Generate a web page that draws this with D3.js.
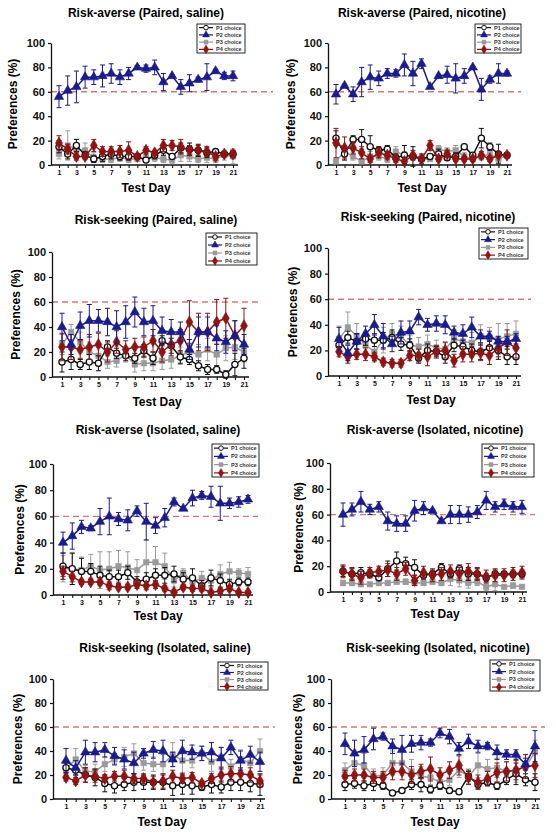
<!DOCTYPE html>
<html><head><meta charset="utf-8">
<script src="https://cdn.jsdelivr.net/npm/d3@7"></script>
<style>body{margin:0;background:#fff}svg{display:block}text{font-family:"Liberation Sans",Arial,sans-serif;font-weight:bold}</style>
</head><body>
<script>
const days = [1,2,3,4,5,6,7,8,9,10,11,12,13,14,15,16,17,18,19,20,21];
const yTicks = [0,20,40,60,80,100];
const criterion = 60;
const seriesNames = ["P1 choice","P2 choice","P3 choice","P4 choice"];
const panelTitles = ["Risk-averse (Paired, saline)","Risk-averse (Paired, nicotine)","Risk-seeking (Paired, saline)","Risk-seeking (Paired, nicotine)","Risk-averse (Isolated, saline)","Risk-averse (Isolated, nicotine)","Risk-seeking (Isolated, saline)","Risk-seeking (Isolated, nicotine)"];
const yLabel = "Preferences (%)";
const xLabel = "Test Day";

// Panel 1: Risk-averse (Paired, saline)
const raPS_P1 = [15,9,16,8,5,7,9,7,7,7,4,8,12,7,14,13,12,10,11,9,9];
const raPS_P1e = [5,4,5,3,3,4,4,3,3,2,2,3,4,2,4,5,5,4,2,2,3];
const raPS_P2 = [56,61,64,72,72,73,75,72,75,80,79,80,68,73,64,67,70,72,77,73,73];
const raPS_P2e = [9,12,13,9,6,9,8,6,5,1.5,3,6,7,1,6,7,2,11,1.5,3,4];
const raPS_P3 = [9,16,13,12,6,5,5,6,5,5,6,6,5,4,8,7,5,6,5,8,7];
const raPS_P3e = [4,12,8,6,4,3,3,3,3,2,3,3,3,3,5,4,3,4,3,4,6];
const raPS_P4 = [18,13,7,7,16,11,11,11,12,7,12,10,16,16,15,12,12,11,7,9,9];
const raPS_P4e = [6,4,3,2,5,4,4,5,7,2,3,2,5,4,6,4,4,4,3,2,3];
// Panel 2: Risk-averse (Paired, nicotine)
const raPN_P1 = [22,9,21,21,15,12,13,6,8,7,5,7,9,6,7,15,8,22,15,9,8];
const raPN_P1e = [6,5,3,8,9,3,3,3,8,8,4,2,4,2,3,2,2,8,3,8,2];
const raPN_P2 = [58,65,58,68,72,71,75,75,82,75,83,64,73,74,71,73,80,62,70,75,75];
const raPN_P2e = [8,1,6,12,10,6,4,3,9,10,4,1,1,7,12,6,1,9,3,8,2];
const raPN_P3 = [3,11,7,3,7,7,5,11,8,7,5,5,13,11,12,7,5,7,9,5,8];
const raPN_P3e = [2,5,3,2,4,3,3,4,3,3,2,2,3,3,4,3,2,3,3,3,2];
const raPN_P4 = [18,14,14,10,5,10,8,5,3,8,5,16,5,9,5,5,5,8,5,8,8];
const raPN_P4e = [12,9,5,5,3,4,3,3,2,4,2,4,2,3,2,2,2,3,2,2,2];
// Panel 3: Risk-seeking (Paired, saline)
const rsPS_P1 = [12,14,10,12,11,24,19,17,15,21,15,29,25,16,14,9,6,6,2,10,15];
const rsPS_P1e = [8,8,4,6,6,5,4,4,4,5,5,4,6,5,4,4,4,3,3,9,8];
const rsPS_P2 = [40,26,41,45,45,44,40,44,52,44,45,37,36,36,22,36,36,31,28,33,26];
const rsPS_P2e = [11,8,11,13,9,11,13,13,12,11,12,11,10,8,8,12,12,10,9,12,8];
const rsPS_P3 = [26,36,28,20,17,12,13,18,10,11,11,13,14,17,20,18,22,18,23,24,20];
const rsPS_P3e = [8,6,8,8,7,5,5,6,6,6,6,7,7,7,6,8,9,9,10,10,8];
const rsPS_P4 = [24,24,22,24,26,20,28,22,24,24,29,20,26,29,44,36,36,44,47,33,41];
const rsPS_P4e = [11,10,7,10,9,8,9,7,7,8,9,8,9,9,17,15,15,18,16,12,14];
// Panel 4: Risk-seeking (Paired, nicotine)
const rsPN_P1 = [24,30,27,29,28,28,30,25,24,14,20,19,15,24,23,20,19,22,20,15,15];
const rsPN_P1e = [5,5,6,5,5,6,6,5,5,4,5,4,5,5,5,5,6,6,7,6,6];
const rsPN_P2 = [29,18,27,33,40,31,25,34,35,46,40,41,40,34,33,38,31,31,27,27,29];
const rsPN_P2e = [9,6,6,6,8,10,6,9,8,6,5,6,7,5,7,8,5,4,4,4,4];
const rsPN_P3 = [29,38,31,24,19,28,33,31,24,23,25,22,21,29,27,26,31,30,29,31,33];
const rsPN_P3e = [10,12,10,8,8,10,8,8,8,7,7,6,6,7,8,8,9,8,12,10,10];
const rsPN_P4 = [19,15,17,17,15,11,10,10,16,16,15,19,20,12,17,17,18,16,22,26,22];
const rsPN_P4e = [4,5,4,5,3,3,3,3,4,5,7,5,6,5,6,6,6,7,7,10,8];
// Panel 5: Risk-averse (Isolated, saline)
const raIS_P1 = [22,20,18,18,15,14,14,17,10,12,15,15,16,12,13,7,13,11,8,10,10];
const raIS_P1e = [10,12,10,6,7,5,5,5,4,5,5,6,6,5,7,4,6,5,4,3,3];
const raIS_P2 = [40,45,52,51,56,60,58,57,64,56,53,59,71,66,74,76,75,70,70,71,73];
const raIS_P2e = [8,10,5,2,10,14,5,8,4,14,6,7,3,1,6,3,8,13,4,4,3];
const raIS_P3 = [20,20,19,22,19,20,22,21,19,25,25,22,11,17,10,13,11,16,18,17,16];
const raIS_P3e = [10,12,10,9,14,13,12,12,8,17,12,10,5,3,4,5,5,7,7,3,5];
const raIS_P4 = [18,14,10,10,10,7,6,6,8,7,8,5,2,6,5,5,2,3,5,2,2];
const raIS_P4e = [4,4,2,2,3,3,2,2,3,3,3,2,2,2,2,2,1,2,2,1,1];
// Panel 6: Risk-averse (Isolated, nicotine)
const raIN_P1 = [16,14,15,14,11,18,24,22,19,13,14,19,14,18,14,14,11,14,14,14,14];
const raIN_P1e = [4,4,4,3,2,6,7,5,6,3,3,3,3,3,5,4,3,3,2,3,3];
const raIN_P2 = [60,64,70,64,66,55,53,53,63,65,63,55,60,60,60,62,71,66,68,66,66];
const raIN_P2e = [9,5,8,4,4,7,6,6,8,5,1,1,7,7,6,5,7,4,4,4,5];
const raIN_P3 = [7,7,6,6,7,7,8,8,7,7,8,7,10,9,7,8,4,6,4,5,4];
const raIN_P3e = [2,2,1,1,2,2,2,2,2,2,2,2,5,5,4,3,3,5,1,2,1];
const raIN_P4 = [16,14,11,15,16,17,14,18,9,15,13,14,16,14,16,14,12,13,13,14,15];
const raIN_P4e = [5,5,5,4,4,5,5,5,4,5,5,5,5,5,6,5,5,5,5,5,5];
// Panel 7: Risk-seeking (Isolated, saline)
const rsIS_P1 = [26,24,20,18,13,11,12,14,14,14,14,11,12,11,10,12,10,14,14,13,12];
const rsIS_P1e = [4,4,6,7,7,6,5,7,6,6,6,8,8,7,3,7,5,7,7,7,9];
const rsIS_P2 = [32,26,39,39,41,36,33,30,38,41,40,33,40,39,38,39,34,43,32,37,31];
const rsIS_P2e = [10,6,10,8,6,7,8,9,4,7,9,6,9,6,6,8,9,6,8,7,8];
const rsIS_P3 = [25,33,23,23,29,33,35,38,30,29,29,37,32,32,38,31,35,27,33,30,40];
const rsIS_P3e = [6,9,5,6,6,5,8,8,6,6,8,10,10,6,6,8,8,6,8,7,10];
const rsIS_P4 = [18,15,20,19,17,19,19,17,17,14,15,19,17,18,13,17,20,21,21,20,15];
const rsIS_P4e = [3,3,6,5,3,4,5,4,4,5,6,5,4,4,2,4,6,6,5,6,5];
// Panel 8: Risk-seeking (Isolated, nicotine)
const rsIN_P1 = [12,13,11,13,11,5,7,12,12,8,11,7,6,19,12,14,11,16,21,16,14];
const rsIN_P1e = [5,4,4,6,3,2,2,4,6,3,3,2,2,4,3,3,3,4,9,5,7];
const rsIN_P2 = [46,38,41,50,52,44,41,46,47,47,55,52,42,48,44,44,39,37,37,29,44];
const rsIN_P2e = [9,11,11,9,3,6,12,7,6,3,4,6,5,6,5,3,6,4,4,5,13];
const rsIN_P3 = [24,30,28,19,20,30,30,23,19,18,14,16,24,19,28,25,26,23,24,27,39];
const rsIN_P3e = [6,8,10,6,6,10,10,10,8,6,5,5,6,6,10,8,8,8,10,10,10];
const rsIN_P4 = [19,20,20,18,18,23,23,20,23,25,20,24,28,18,14,17,22,23,24,27,28];
const rsIN_P4e = [5,5,5,5,5,7,7,7,6,10,6,7,8,6,6,6,8,8,8,10,10];

const panelValues = [
  [raPS_P1,raPS_P2,raPS_P3,raPS_P4],[raPN_P1,raPN_P2,raPN_P3,raPN_P4],
  [rsPS_P1,rsPS_P2,rsPS_P3,rsPS_P4],[rsPN_P1,rsPN_P2,rsPN_P3,rsPN_P4],
  [raIS_P1,raIS_P2,raIS_P3,raIS_P4],[raIN_P1,raIN_P2,raIN_P3,raIN_P4],
  [rsIS_P1,rsIS_P2,rsIS_P3,rsIS_P4],[rsIN_P1,rsIN_P2,rsIN_P3,rsIN_P4]];
const panelErrors = [
  [raPS_P1e,raPS_P2e,raPS_P3e,raPS_P4e],[raPN_P1e,raPN_P2e,raPN_P3e,raPN_P4e],
  [rsPS_P1e,rsPS_P2e,rsPS_P3e,rsPS_P4e],[rsPN_P1e,rsPN_P2e,rsPN_P3e,rsPN_P4e],
  [raIS_P1e,raIS_P2e,raIS_P3e,raIS_P4e],[raIN_P1e,raIN_P2e,raIN_P3e,raIN_P4e],
  [rsIS_P1e,rsIS_P2e,rsIS_P3e,rsIS_P4e],[rsIN_P1e,rsIN_P2e,rsIN_P3e,rsIN_P4e]];

// layout (pixel positions per panel)
const layout = [
  {ax:51, y100:43, y0:165, d1:59, d21:233, xEnd:238, dashEnd:273, tx:146, ty:13, ylx:13, xly:188, xlx:146, lg:[197,24,48,29]},
  {ax:328,y100:43, y0:165, d1:336,d21:507, xEnd:512, dashEnd:521, tx:422, ty:13, ylx:291, xly:188, xlx:422, lg:[475,24,46,29]},
  {ax:52, y100:252,y0:377, d1:62, d21:244, xEnd:249, dashEnd:258, tx:156, ty:220, ylx:16, xly:402, xlx:157, lg:[206,233,51,32]},
  {ax:328,y100:248,y0:376, d1:339,d21:516, xEnd:521, dashEnd:531, tx:428, ty:217, ylx:293, xly:400, xlx:431, lg:[479,228,49,31]},
  {ax:53, y100:464,y0:595, d1:63, d21:248, xEnd:253, dashEnd:258, tx:158, ty:430, ylx:20, xly:616, xlx:158, lg:[212,444,47,33]},
  {ax:330,y100:463,y0:592, d1:343,d21:522, xEnd:527, dashEnd:535, tx:435, ty:430, ylx:299, xly:614, xlx:435, lg:[482,444,52,33]},
  {ax:53, y100:679,y0:799, d1:66, d21:260, xEnd:265, dashEnd:275, tx:165, ty:648, ylx:18, xly:822, xlx:162, lg:[218,662,50,28]},
  {ax:331,y100:679,y0:799, d1:345,d21:535, xEnd:540, dashEnd:545, tx:438, ty:648, ylx:298, xly:822, xlx:435, lg:[490,660,50,31]}
];
const colors = ["#111111","#1b1b8a","#9a9a9a","#8e1414"];
const symbols = [d3.symbolCircle,d3.symbolTriangle,d3.symbolSquare,d3.symbolDiamond];
const symSizes = [30,38,30,42];
const drawOrder = [2,0,3,1];

const svg = d3.select("body").append("svg").attr("width",556).attr("height",835);

panelValues.forEach((vals, pi) => {
  const L = layout[pi];
  const errs = panelErrors[pi];
  const g = svg.append("g");
  const x = d3.scaleLinear().domain([1,21]).range([L.d1, L.d21]);
  const y = d3.scaleLinear().domain([0,100]).range([L.y0, L.y100]);

  g.append("text").attr("x",L.tx).attr("y",L.ty).attr("text-anchor","middle").attr("dominant-baseline","central")
    .attr("font-size",12).text(panelTitles[pi]);
  g.append("text").attr("transform",`translate(${L.ylx},${(L.y0+L.y100)/2}) rotate(-90)`).attr("text-anchor","middle")
    .attr("dominant-baseline","central").attr("font-size",12).text(yLabel);
  g.append("text").attr("x",L.xlx).attr("y",L.xly).attr("text-anchor","middle").attr("dominant-baseline","central")
    .attr("font-size",12).text(xLabel);

  g.append("line").attr("x1",L.ax).attr("x2",L.dashEnd).attr("y1",y(criterion)).attr("y2",y(criterion))
    .attr("stroke","#d27a78").attr("stroke-width",1.4).attr("stroke-dasharray","6,4");

  const ya = g.append("g").attr("transform",`translate(${L.ax},0)`)
    .call(d3.axisLeft(y).tickValues(yTicks).tickSize(3).tickSizeOuter(0).tickPadding(3));
  ya.select(".domain").attr("stroke","#111").attr("stroke-width",1.3);
  ya.selectAll(".tick line").attr("stroke","#111").attr("stroke-width",1.2);
  ya.selectAll(".tick text").attr("font-size",11).attr("font-family","Liberation Sans, Arial, sans-serif").attr("font-weight","bold").attr("fill","#111");

  const xa = g.append("g").attr("transform",`translate(0,${L.y0})`)
    .call(d3.axisBottom(x).tickValues(days).tickFormat(d => d % 2 ? d : "").tickSize(3).tickPadding(2));
  xa.select(".domain").remove();
  xa.selectAll(".tick line").attr("stroke","#111").attr("stroke-width",1.1);
  xa.selectAll(".tick text").attr("font-size",7).attr("font-family","Liberation Sans, Arial, sans-serif").attr("font-weight","bold").attr("fill","#111");
  g.append("line").attr("x1",L.ax).attr("x2",L.xEnd).attr("y1",L.y0).attr("y2",L.y0).attr("stroke","#111").attr("stroke-width",1.3);

  drawOrder.forEach(si => {
    const v = vals[si], e = errs[si], c = colors[si];
    const sg = g.append("g");
    const eb = sg.selectAll("g.eb").data(days).join("g");
    eb.append("line").attr("x1",d=>x(d)).attr("x2",d=>x(d))
      .attr("y1",(d,i)=>y(v[i]-e[i])).attr("y2",(d,i)=>y(v[i]+e[i])).attr("stroke",c).attr("stroke-width",1);
    [-1,1].forEach(s => {
      eb.append("line").attr("x1",d=>x(d)-2.5).attr("x2",d=>x(d)+2.5)
        .attr("y1",(d,i)=>y(v[i]+s*e[i])).attr("y2",(d,i)=>y(v[i]+s*e[i])).attr("stroke",c).attr("stroke-width",1);
    });
    sg.append("path").datum(days).attr("fill","none").attr("stroke",c).attr("stroke-width",1.5)
      .attr("d", d3.line().x(d=>x(d)).y((d,i)=>y(v[i])));
    sg.selectAll("path.m").data(days).join("path").attr("class","m")
      .attr("transform",(d,i)=>`translate(${x(d)},${y(v[i])})`)
      .attr("d", d3.symbol().type(symbols[si]).size(symSizes[si]))
      .attr("fill", si === 0 ? "#fff" : c).attr("stroke", c).attr("stroke-width", si === 0 ? 1.3 : 0.6);
  });

  const [lx, ly, lw, lh] = L.lg;
  const lgG = g.append("g");
  lgG.append("rect").attr("x",lx).attr("y",ly).attr("width",lw).attr("height",lh).attr("fill","#fff")
    .attr("stroke","#111").attr("stroke-width",0.9);
  const rowH = lh / 4;
  seriesNames.forEach((name, si) => {
    const ry = ly + rowH * (si + 0.5);
    lgG.append("line").attr("x1",lx+2).attr("x2",lx+16).attr("y1",ry).attr("y2",ry).attr("stroke",colors[si]).attr("stroke-width",1.2);
    lgG.append("path").attr("transform",`translate(${lx+9},${ry})`)
      .attr("d", d3.symbol().type(symbols[si]).size(symSizes[si]*0.55))
      .attr("fill", si === 0 ? "#fff" : colors[si]).attr("stroke", colors[si]).attr("stroke-width", si===0?1:0.5);
    lgG.append("text").attr("x",lx+19).attr("y",ry).attr("dominant-baseline","central")
      .attr("font-size",5.5).attr("fill","#333").text(name);
  });
});
</script>
</body></html>
